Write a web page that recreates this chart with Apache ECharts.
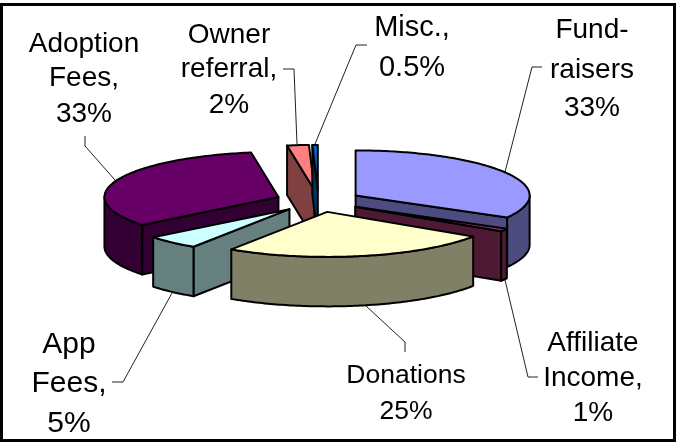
<!DOCTYPE html>
<html>
<head>
<meta charset="utf-8">
<style>
  html, body { margin: 0; padding: 0; background: #fff; }
  #main { width: 677px; height: 442px; }
</style>
<script src="https://cdn.jsdelivr.net/npm/echarts@6/dist/echarts.min.js"></script>
</head>
<body>
<div id="main"></div>
<script>
// data, in pie order (clockwise from 12 o'clock)
const categories = ['Fundraisers', 'Affiliate Income', 'Donations', 'App Fees', 'Adoption Fees', 'Owner referral', 'Misc.'];
const values = [33, 1, 25, 5, 33, 2, 0.5];
const tickLabels = [
  ['Fund-', 'raisers', '33%'],
  ['Affiliate', 'Income,', '1%'],
  ['Donations', '25%'],
  ['App', 'Fees,', '5%'],
  ['Adoption', 'Fees,', '33%'],
  ['Owner', 'referral,', '2%'],
  ['Misc.,', '0.5%']
];

// styling, same order as above
const topColors = ['#9999FF', '#993366', '#FFFFCC', '#CCFFFF', '#660066', '#FF8080', '#0066CC'];
const sideColors = ['#4C4C80', '#4D1933', '#808066', '#668080', '#330033', '#804040', '#003366'];
// back to front
const drawOrder = [0, 4, 5, 6, 1, 3, 2];

// label placement: centre x, baseline of each line, font size, leader line
const labelLayout = [
  { x: 592, y: [38, 78, 116], size: 28, line: [[542, 67], [532, 67], [505, 172]] },
  { x: 593, y: [351, 386, 421], size: 28, line: [[538, 377], [528, 377], [505, 280]] },
  { x: 406, y: [383, 419], size: 26.5, line: [[405, 352], [405, 342], [366, 306]] },
  { x: 69, y: [353, 392, 432], size: 30, line: [[112, 382], [123, 382], [172, 293]] },
  { x: 84, y: [52, 86, 122], size: 28, line: [[85, 136], [85, 146], [115, 180]] },
  { x: 229, y: [43, 77, 113], size: 28, line: [[283, 69], [294, 69], [297, 144]] },
  { x: 412, y: [36, 76], size: 29, line: [[367, 45], [356, 45], [315, 144]] }
];

const explode = 0.247;  // slice offset, in pie radii
const depth = 1.1;      // height of the pie, in y axis units
const strokeW = 2;

const total = values.reduce(function (a, b) { return a + b; }, 0);
const spans = [];
let sum = 0;
for (let i = 0; i < values.length; i++) {
  spans.push([sum / total * 360, (sum + values[i]) / total * 360]);
  sum += values[i];
}

function rad(d) { return d * Math.PI / 180; }

function renderSlice(params, api) {
  const i = api.value(0);
  const a0 = spans[i][0], a1 = spans[i][1];
  const mid = rad((a0 + a1) / 2);
  const ox = explode * Math.sin(mid), oy = explode * Math.cos(mid);
  const rank = drawOrder.indexOf(i) * 10;

  function pt(r, deg, drop) {
    return api.coord([ox + r * Math.sin(rad(deg)), oy + r * Math.cos(rad(deg)) - (drop || 0)]);
  }
  function face(points, fill, z) {
    return {
      type: 'polygon',
      z2: rank + z,
      shape: { points: points },
      style: { fill: fill, stroke: '#000', lineWidth: strokeW, lineJoin: 'round' }
    };
  }

  const children = [];
  if (Math.sin(rad(a0)) < -1e-6) {
    children.push(face([pt(0, a0), pt(1, a0), pt(1, a0, depth), pt(0, a0, depth)], sideColors[i], 1));
  }
  if (Math.sin(rad(a1)) > 1e-6) {
    children.push(face([pt(0, a1), pt(1, a1), pt(1, a1, depth), pt(0, a1, depth)], sideColors[i], 1));
  }
  // outer wall, only where the rim faces the viewer
  const from = Math.max(a0, 90), to = Math.min(a1, 270);
  if (to > from) {
    const upper = [], lower = [];
    for (let d = from; d < to; d++) {
      upper.push(pt(1, d));
      lower.unshift(pt(1, d, depth));
    }
    upper.push(pt(1, to));
    lower.unshift(pt(1, to, depth));
    children.push(face(upper.concat(lower), sideColors[i], 2));
  }
  const top = [pt(0, a0)];
  for (let d = a0; d < a1; d++) {
    top.push(pt(1, d));
  }
  top.push(pt(1, a1));
  children.push(face(top, topColors[i], 3));
  return { type: 'group', children: children };
}

const graphics = [{
  type: 'rect',
  shape: { x: 1.5, y: 4.5, width: 673, height: 436 },
  style: { fill: 'transparent', stroke: '#000', lineWidth: 3 },
  z: 10
}];
tickLabels.forEach(function (lines, i) {
  const lay = labelLayout[i];
  lines.forEach(function (txt, k) {
    graphics.push({
      type: 'text',
      x: lay.x,
      y: lay.y[k] + lay.size * 0.22,  // bottom of the text box, baseline sits above it
      z: 10,
      style: {
        text: txt,
        fill: '#000',
        font: lay.size + 'px "Liberation Sans", Arial, sans-serif',
        textAlign: 'center',
        textVerticalAlign: 'bottom'
      }
    });
  });
  graphics.push({
    type: 'polyline',
    z: 0,
    shape: { points: lay.line },
    style: { stroke: '#222', lineWidth: 1, fill: 'none' }
  });
});

const chart = echarts.init(document.getElementById('main'), null, { renderer: 'canvas' });
chart.setOption({
  animation: false,
  backgroundColor: '#fff',
  grid: { left: 144.5, top: 156, width: 348, height: 90 },
  xAxis: { type: 'value', min: -1, max: 1, show: false },
  yAxis: { type: 'value', min: -1, max: 1, show: false },
  graphic: graphics,
  series: [{
    type: 'custom',
    coordinateSystem: 'cartesian2d',
    renderItem: renderSlice,
    encode: { x: 0, y: 1 },
    data: categories.map(function (name, i) {
      return { name: name, value: [i, values[i]] };
    })
  }]
});
</script>
</body>
</html>
